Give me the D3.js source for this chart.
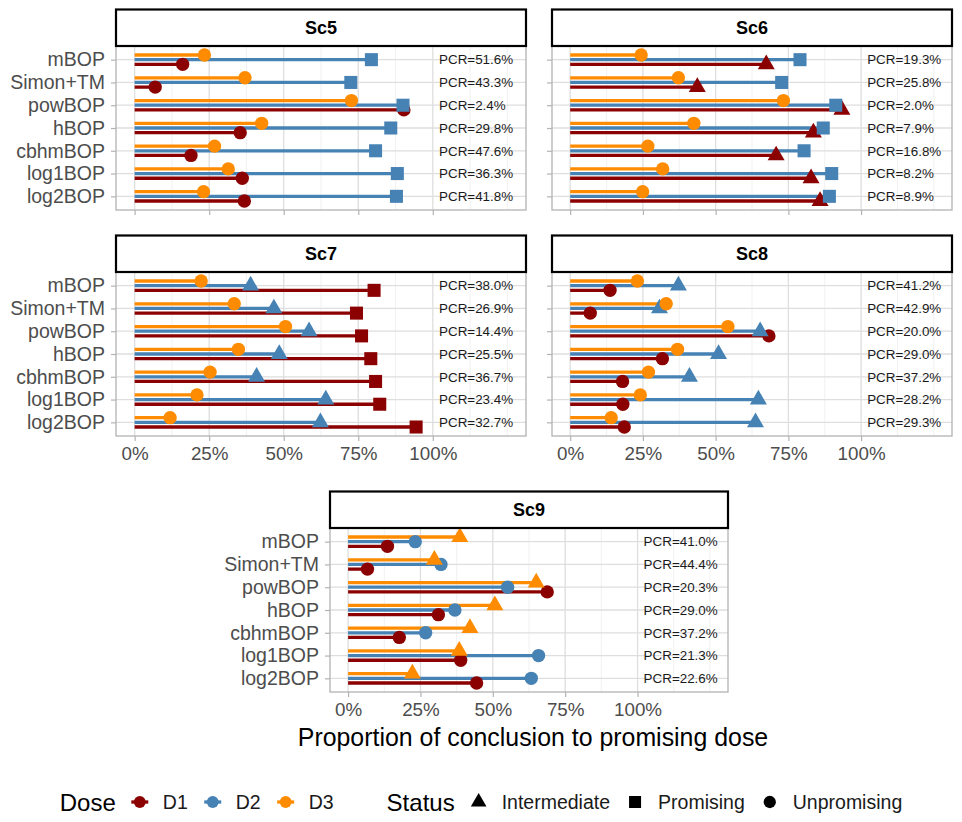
<!DOCTYPE html>
<html>
<head>
<meta charset="utf-8">
<script src="https://cdn.jsdelivr.net/npm/d3@7"></script>
<style>
  body { margin: 0; background: #fff; }
  svg text { font-family: "Liberation Sans", Arial, sans-serif; }
</style>
</head>
<body>
<div id="chart"></div>
<script>
// categories
var methods = ["mBOP", "Simon+TM", "powBOP", "hBOP", "cbhmBOP", "log1BOP", "log2BOP"];
var doses = ["D1", "D2", "D3"];
var statuses = ["Intermediate", "Promising", "Unpromising"];
var xTicks = [0, 0.25, 0.5, 0.75, 1];

// proportion of conclusion to promising dose, per scenario and dose
var sc5D1 = [0.161, 0.069, 0.903, 0.354, 0.189, 0.361, 0.368];
var sc5D2 = [0.794, 0.725, 0.900, 0.859, 0.808, 0.881, 0.878];
var sc5D3 = [0.234, 0.370, 0.727, 0.426, 0.268, 0.314, 0.231];
var sc5PCR = ["51.6%", "43.3%", "2.4%", "29.8%", "47.6%", "36.3%", "41.8%"];
var sc5Status = ["Unpromising", "Promising", "Unpromising"];

var sc6D1 = [0.674, 0.437, 0.934, 0.836, 0.708, 0.828, 0.859];
var sc6D2 = [0.790, 0.727, 0.913, 0.870, 0.804, 0.899, 0.891];
var sc6D3 = [0.244, 0.372, 0.733, 0.425, 0.267, 0.318, 0.249];
var sc6PCR = ["19.3%", "25.8%", "2.0%", "7.9%", "16.8%", "8.2%", "8.9%"];
var sc6Status = ["Intermediate", "Promising", "Unpromising"];

var sc7D1 = [0.803, 0.744, 0.761, 0.792, 0.808, 0.822, 0.944];
var sc7D2 = [0.389, 0.467, 0.585, 0.485, 0.409, 0.641, 0.623];
var sc7D3 = [0.223, 0.334, 0.506, 0.348, 0.253, 0.209, 0.119];
var sc7PCR = ["38.0%", "26.9%", "14.4%", "25.5%", "36.7%", "23.4%", "32.7%"];
var sc7Status = ["Promising", "Intermediate", "Unpromising"];

var sc8D1 = [0.137, 0.069, 0.683, 0.317, 0.180, 0.181, 0.186];
var sc8D2 = [0.372, 0.307, 0.653, 0.510, 0.410, 0.647, 0.637];
var sc8D3 = [0.231, 0.330, 0.542, 0.369, 0.269, 0.241, 0.141];
var sc8PCR = ["41.2%", "42.9%", "20.0%", "29.0%", "37.2%", "28.2%", "29.3%"];
var sc8Status = ["Unpromising", "Intermediate", "Unpromising"];

var sc9D1 = [0.136, 0.067, 0.688, 0.312, 0.177, 0.389, 0.444];
var sc9D2 = [0.232, 0.321, 0.551, 0.369, 0.268, 0.658, 0.633];
var sc9D3 = [0.386, 0.298, 0.650, 0.507, 0.421, 0.384, 0.222];
var sc9PCR = ["41.0%", "44.4%", "20.3%", "29.0%", "37.2%", "21.3%", "22.6%"];
var sc9Status = ["Unpromising", "Unpromising", "Intermediate"];

// colours and shapes
var doseColor = d3.scaleOrdinal()
    .domain(doses)
    .range(["#8B0000", "#4682B4", "#FF8C00"]);

var statusShape = d3.scaleOrdinal()
    .domain(statuses)
    .range([d3.symbolTriangle, d3.symbolSquare, d3.symbolCircle]);

var statusSize = d3.scaleOrdinal()
    .domain(statuses)
    .range([125, 170, 140]);

// panel layout
var stripH = 36.5,
    panelH = 164,
    xDomain = [-0.0625, 1.3125];

var panels = [
  {name: "Sc5", left: 116, width: 410, top: 9.5, yLab: true, xLab: false,
   vals: [sc5D1, sc5D2, sc5D3], pcr: sc5PCR, status: sc5Status},
  {name: "Sc6", left: 552, width: 400, top: 9.5, yLab: false, xLab: false,
   vals: [sc6D1, sc6D2, sc6D3], pcr: sc6PCR, status: sc6Status},
  {name: "Sc7", left: 116, width: 410, top: 235.5, yLab: true, xLab: true,
   vals: [sc7D1, sc7D2, sc7D3], pcr: sc7PCR, status: sc7Status},
  {name: "Sc8", left: 552, width: 400, top: 235.5, yLab: false, xLab: true,
   vals: [sc8D1, sc8D2, sc8D3], pcr: sc8PCR, status: sc8Status},
  {name: "Sc9", left: 330, width: 398, top: 491.5, yLab: true, xLab: true,
   vals: [sc9D1, sc9D2, sc9D3], pcr: sc9PCR, status: sc9Status}
];

var svg = d3.select("#chart")
    .append("svg")
    .attr("width", 962)
    .attr("height", 822);

svg.append("rect")
    .attr("width", 962)
    .attr("height", 822)
    .attr("fill", "#fff");

function drawPanel(p) {
  var g = svg.append("g")
      .attr("transform", "translate(" + p.left + "," + p.top + ")");

  var py = stripH;

  var x = d3.scaleLinear()
      .domain(xDomain)
      .range([0, p.width]);

  var y = d3.scalePoint()
      .domain(methods)
      .range([py, py + panelH])
      .padding(0.6);

  var dodge = y.step() * 0.205;
  // D3 on top, D2 in the middle, D1 at the bottom
  var offset = {D1: dodge, D2: 0, D3: -dodge};

  // minor grid
  var minor = d3.range(0.125, 1.3, 0.25).concat([1.25]);
  g.append("g").selectAll("line")
      .data(minor)
      .join("line")
      .attr("x1", d => x(d)).attr("x2", d => x(d))
      .attr("y1", py).attr("y2", py + panelH)
      .attr("stroke", "#EDEDED")
      .attr("stroke-width", 0.8);

  // major grid
  g.append("g").selectAll("line")
      .data(xTicks)
      .join("line")
      .attr("x1", d => x(d)).attr("x2", d => x(d))
      .attr("y1", py).attr("y2", py + panelH)
      .attr("stroke", "#DEDEDE")
      .attr("stroke-width", 1.3);

  g.append("g").selectAll("line")
      .data(methods)
      .join("line")
      .attr("x1", 0).attr("x2", p.width)
      .attr("y1", d => y(d)).attr("y2", d => y(d))
      .attr("stroke", "#DEDEDE")
      .attr("stroke-width", 1.3);

  // segments from 0 to the value
  doses.forEach(function(dose, k) {
    g.append("g").selectAll("line")
        .data(p.vals[k])
        .join("line")
        .attr("x1", x(0))
        .attr("x2", d => x(d))
        .attr("y1", (d, i) => y(methods[i]) + offset[dose])
        .attr("y2", (d, i) => y(methods[i]) + offset[dose])
        .attr("stroke", doseColor(dose))
        .attr("stroke-width", 3.3);
  });

  // points, shape by status
  doses.forEach(function(dose, k) {
    var st = p.status[k];
    g.append("g").selectAll("path")
        .data(p.vals[k])
        .join("path")
        .attr("transform", (d, i) => "translate(" + x(d) + "," +
              (y(methods[i]) + offset[dose]) + ")")
        .attr("d", d3.symbol().type(statusShape(st)).size(statusSize(st)))
        .attr("fill", doseColor(dose));
  });

  // PCR labels, left aligned just past 100%
  g.append("g").selectAll("text")
      .data(p.pcr)
      .join("text")
      .attr("x", x(1.021))
      .attr("y", (d, i) => y(methods[i]))
      .attr("dy", "0.36em")
      .attr("text-anchor", "start")
      .attr("font-size", 13.4)
      .attr("fill", "#1a1a1a")
      .text(d => "PCR=" + d);

  // panel border
  g.append("rect")
      .attr("x", 0).attr("y", py)
      .attr("width", p.width).attr("height", panelH)
      .attr("fill", "none")
      .attr("stroke", "#B3B3B3")
      .attr("stroke-width", 1.3);

  // strip
  g.append("rect")
      .attr("x", 0).attr("y", 0)
      .attr("width", p.width).attr("height", stripH)
      .attr("fill", "#fff")
      .attr("stroke", "#000")
      .attr("stroke-width", 2.2);

  g.append("text")
      .attr("x", p.width / 2)
      .attr("y", stripH / 2)
      .attr("dy", "0.36em")
      .attr("text-anchor", "middle")
      .attr("font-size", 18)
      .attr("font-weight", "bold")
      .attr("fill", "#000")
      .text(p.name);

  // y axis
  var yAxis = d3.axisLeft(y).tickSize(5).tickPadding(6);
  var ya = g.append("g").call(yAxis);
  ya.select(".domain").remove();
  ya.selectAll(".tick line").attr("stroke", "#B3B3B3").attr("stroke-width", 1.2);
  ya.selectAll(".tick text")
      .attr("font-size", 19.5)
      .attr("font-family", null)
      .attr("fill", "#4D4D4D")
      .style("display", p.yLab ? null : "none");

  // x axis
  var xAxis = d3.axisBottom(x)
      .tickValues(xTicks)
      .tickFormat(d3.format(".0%"))
      .tickSize(5)
      .tickPadding(6);
  var xa = g.append("g")
      .attr("transform", "translate(0," + (py + panelH) + ")")
      .call(xAxis);
  xa.select(".domain").remove();
  xa.selectAll(".tick line").attr("stroke", "#B3B3B3").attr("stroke-width", 1.2);
  xa.selectAll(".tick text")
      .attr("font-size", 18.8)
      .attr("font-family", null)
      .attr("fill", "#4D4D4D")
      .style("display", p.xLab ? null : "none");
}

panels.forEach(drawPanel);

// x axis title under the last panel
var last = panels[panels.length - 1];
svg.append("text")
    .attr("x", last.left + last.width / 2 + 4)
    .attr("y", 746)
    .attr("text-anchor", "middle")
    .attr("font-size", 24.9)
    .attr("fill", "#000")
    .text("Proportion of conclusion to promising dose");

// legend, laid out left to right and centred
var legend = svg.append("g");
var legY = 802;
var cursor = 0;

function addTitle(t) {
  var el = legend.append("text")
      .attr("x", cursor).attr("y", legY)
      .attr("dy", "0.36em")
      .attr("font-size", 24)
      .attr("fill", "#000")
      .text(t);
  cursor += el.node().getComputedTextLength() + 24;
}

function addItem(label, drawKey) {
  var k = legend.append("g").attr("transform", "translate(" + cursor + "," + legY + ")");
  drawKey(k);
  cursor += 23;
  var el = legend.append("text")
      .attr("x", cursor).attr("y", legY)
      .attr("dy", "0.36em")
      .attr("font-size", 19.5)
      .attr("fill", "#1a1a1a")
      .text(label);
  cursor += el.node().getComputedTextLength() + 25;
}

addTitle("Dose");
doses.forEach(function(dose) {
  addItem(dose, function(k) {
    k.append("line")
        .attr("x1", -8.5).attr("x2", 8.5)
        .attr("stroke", doseColor(dose))
        .attr("stroke-width", 3.3);
    k.append("path")
        .attr("d", d3.symbol().type(d3.symbolCircle).size(110)())
        .attr("fill", doseColor(dose));
  });
});
cursor += 28;
addTitle("Status");
statuses.forEach(function(st) {
  addItem(st, function(k) {
    k.append("path")
        .attr("d", d3.symbol().type(statusShape(st)).size(statusSize(st) * 0.85)())
        .attr("fill", "#000");
  });
});
cursor -= 25;
legend.attr("transform", "translate(" + ((962 - cursor) / 2) + ",0)");
</script>
</body>
</html>
